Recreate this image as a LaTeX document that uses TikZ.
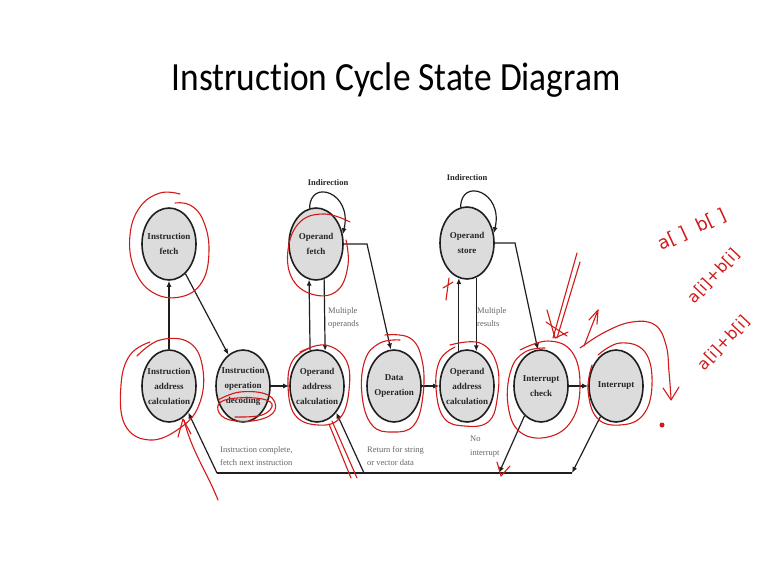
\documentclass[tikz,border=0pt]{standalone}
\usepackage{fontspec}
\setmainfont{Liberation Serif}
\newfontfamily\titlefont[Ligatures={NoCommon}]{Carlito}
\newfontfamily\handfont{DejaVu Sans}
\usetikzlibrary{arrows.meta,shapes.geometric,calc}
\definecolor{pencol}{HTML}{D21A1A}
\definecolor{statefill}{HTML}{DCDCDC}
\begin{document}
\begin{tikzpicture}[x=1pt,y=-1pt,
 state/.style={ellipse, draw=black!88, line width=1.6pt, fill=statefill, minimum width=54pt, minimum height=72pt, inner sep=0pt},
 stext/.style={align=center, inner sep=0pt, font=\fontsize{9}{15}\selectfont\bfseries, text=black!85},
 conn/.style={line width=1.2pt, draw=black!88},
 arr/.style={conn, -{Latex[length=6pt,width=5pt]}},
 lbl/.style={font=\fontsize{8.5}{13.5}\selectfont, text=black!60, align=left, anchor=north west, inner sep=0pt},
 blbl/.style={font=\fontsize{8.5}{10}\selectfont\bfseries, text=black!85, inner sep=0pt},
 pen/.style={draw=pencol, line width=1.1pt, line cap=round, line join=round},
 hand/.style={text=pencol, font=\handfont\fontsize{16}{16}\selectfont, inner sep=0pt}
]
\fill[white] (0,0) rectangle (767,576);
\useasboundingbox (0,0) rectangle (767,576);

% title
\node[font=\titlefont\fontsize{40}{40}\selectfont, anchor=base, inner sep=0pt, xscale=0.885] (title) at (396,90) {Instruction Cycle State Diagram};

% states
\node[state] (ifetch) at (169,244) {};
\node[state] (ofetch) at (316,244) {};
\node[state] (ostore) at (467,243) {};
\node[state] (iac) at (169,386) {};
\node[state] (dec) at (243,386) {};
\node[state] (oac1) at (317,386) {};
\node[state] (dop) at (394,386) {};
\node[state] (oac2) at (467,386) {};
\node[state] (ichk) at (541,386) {};
\node[state] (intr) at (616,386) {};

\node[stext] (tifetch) at (ifetch) {Instruction\\fetch};
\node[stext] (tofetch) at (ofetch) {Operand\\fetch};
\node[stext] (tostore) at (ostore) {Operand\\store};
\node[stext] (tiac) at (iac) {Instruction\\address\\calculation};
\node[stext] (tdec) at (dec) {Instruction\\operation\\decoding};
\node[stext] (toac1) at (oac1) {Operand\\address\\calculation};
\node[stext] (tdop) at (dop) {Data\\Operation};
\node[stext] (toac2) at (oac2) {Operand\\address\\calculation};
\node[stext] (tichk) at (ichk) {Interrupt\\check};
\node[stext] (tintr) at (intr) {Interrupt};

% connectors
\draw[arr] (iac) -- (ifetch);
\draw[arr] (ifetch.-61) -- (dec.115);
\draw[arr] (dec) -- (oac1);
\draw[arr] (oac1.101) -- (ofetch.-101);
\draw[arr] (ofetch.-77) -- (oac1.77);
\coordinate (k1) at (367,244);
\draw[arr] (ofetch.east) -- (k1) -- (dop.95);
\draw[arr] (dop) -- (oac2);
\draw[arr] (oac2.103) -- (ostore.-103);
\draw[arr] (ostore.-75) -- (oac2.75);
\coordinate (k2) at (515,243);
\draw[arr] (ostore.east) -- (k2) -- (ichk.95);
\draw[arr] (ichk) -- (intr);

% self loops
\draw[arr] (ofetch.100) .. controls +(0,-30) and +(10,-42) .. (ofetch.20);
\draw[arr] (ostore.100) .. controls +(0,-30) and +(10,-42) .. (ostore.20);
\node[blbl] (ind1) at (328,183) {Indirection};
\node[blbl] (ind2) at (467,178) {Indirection};

% bottom return path
\coordinate (b1) at (217,473);
\coordinate (b2) at (364,473);
\coordinate (b3) at (499,473);
\coordinate (b4) at (572,473);
\draw[conn] (b1) -- (b4);
\draw[arr] (b1) -- (iac.-54);
\draw[arr] (b2) -- (oac1.-54);
\draw[arr] (ichk.-119) -- (b3);
\draw[arr] (intr.-117) -- (b4);

% labels
\node[lbl] (l1) at (328,307) {Multiple\\operands};
\node[lbl] (l2) at (477,307) {Multiple\\results};
\node[lbl] (l3) at (220,446) {Instruction complete,\\fetch next instruction};
\node[lbl] (l4) at (367,446) {Return for string\\or vector data};
\node[lbl] (l5) at (470,436) {No\\interrupt};

% red annotations
\draw[pen] plot[smooth, tension=0.7] coordinates {(180,194) (160,193) (140,207) (130,235) (134,268) (152,292) (180,297) (202,282) (209,250) (203,220) (190,205) (175,203)};
\draw[pen] plot[smooth, tension=0.7] coordinates {(350,222) (325,214) (300,222) (288,250) (293,280) (315,295) (338,290) (348,265) (346,240)};
\draw[pen] plot[smooth, tension=0.7] coordinates {(137,356) (160,340) (190,343) (203,370) (199,405) (180,428) (150,440) (125,425) (121,385) (130,355) (150,342)};
\draw[pen] plot[smooth, tension=0.7] coordinates {(218,400) (240,392) (268,395) (275,410) (258,420) (230,420) (218,410) (225,400) (255,398) (272,404) (262,415) (235,417)};
\draw[pen] plot[smooth, tension=0.7] coordinates {(300,352) (325,345) (346,360) (349,390) (340,418) (318,425) (295,415) (288,385) (293,360) (310,348)};
\draw[pen] plot[smooth, tension=0.7] coordinates {(385,335) (410,338) (422,360) (423,395) (414,425) (393,432) (372,425) (362,395) (365,360) (380,343) (400,340)};
\draw[pen] plot[smooth, tension=0.7] coordinates {(450,345) (480,343) (497,365) (497,400) (488,422) (465,426) (444,418) (436,388) (440,360) (455,347)};
\draw[pen] plot[smooth, tension=0.7] coordinates {(520,350) (548,341) (572,352) (580,385) (572,420) (548,437) (520,432) (508,405) (511,370) (525,352) (545,348)};
\draw[pen] plot[smooth, tension=0.7] coordinates {(598,355) (620,343) (645,352) (652,385) (643,415) (620,425) (597,418) (588,390) (592,365)};
\draw[pen] plot[smooth, tension=0.7] coordinates {(580,348) (605,332) (632,322) (655,325) (666,345) (669,372) (671,398)};
\draw[pen] (663,388) -- (671,400) -- (679,387);
\fill[pencol] (662,425) circle (2.5);
% red arrows
\draw[pen] (577,253) -- (553,338);
\draw[pen] (580,262) -- (557,338);
\draw[pen] (547,310) -- (555,338) -- (568,332);
\draw[pen] (546,322) -- (567,336);
\draw[pen] (584,346) -- (598,310);
\draw[pen] (589,320) -- (598,310) -- (597,324);
\draw[pen] (218,500) .. controls (206,470) and (192,452) .. (184,420);
\draw[pen] (178,437) -- (183,419) -- (191,434);
\draw[pen] (357,478) -- (332,421);
\draw[pen] (351,478) -- (329,424);
\draw[pen] (449,278) -- (446,300);
\draw[pen] (443,288) -- (453,282);
\draw[pen] (497,462) -- (501,476) -- (510,466);
% handwriting
\node[hand, rotate=25, font=\handfont\fontsize{18}{18}\selectfont] (h1) at (692,230) {a[ ] \ b[ ]};
\node[hand, rotate=47] (h2) at (714,276) {a[i]+b[i]};
\node[hand, rotate=47] (h3) at (724,343) {a[i]+b[i]};
\end{tikzpicture}
\end{document}
